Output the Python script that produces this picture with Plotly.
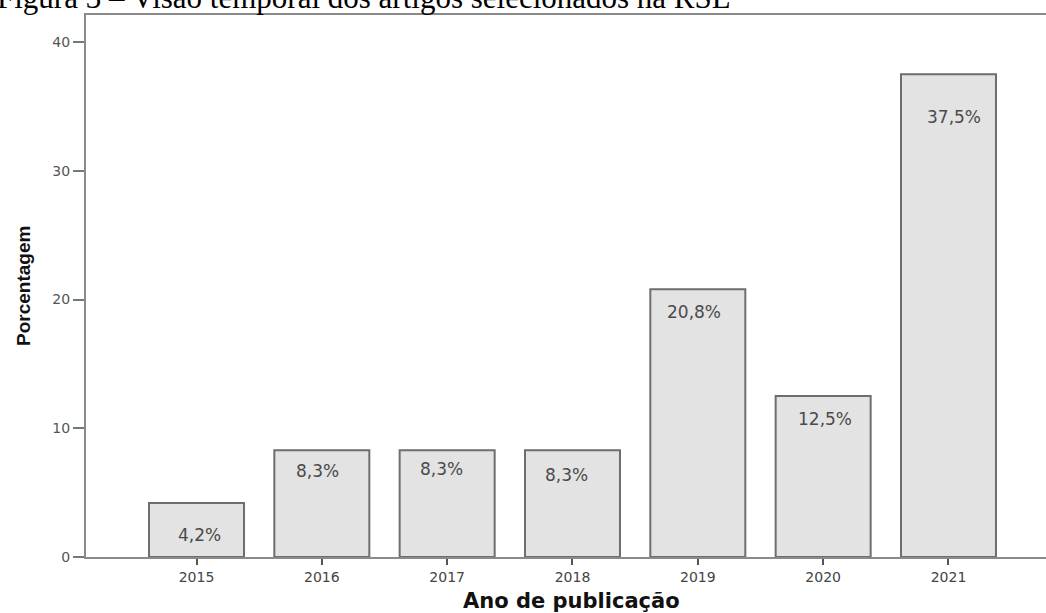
import plotly.graph_objects as go

years = ["2015", "2016", "2017", "2018", "2019", "2020", "2021"]
percent = [4.2, 8.3, 8.3, 8.3, 20.8, 12.5, 37.5]
labels = ["4,2%", "8,3%", "8,3%", "8,3%", "20,8%", "12,5%", "37,5%"]
y_ticks = [0, 10, 20, 30, 40]

title_text = "Figura 3 – Visão temporal dos artigos selecionados na RSL"
x_title = "Ano de publicação"
y_title = "Porcentagem"

# label placement offsets (pixels) relative to the bar top / category centre
label_dy = [-32, -21, -19, -25, -23, -23, -43]
label_dx = [3, -4, -6, -6, -4, 2, 6]

W, H = 1046, 613
ml, mt, mr, mb = 86, 15, 0, 56
pw, ph = W - ml - mr, H - mt - mb

fig = go.Figure()
fig.add_trace(go.Bar(
    x=years, y=percent,
    marker=dict(color="#e3e3e3", line=dict(color="#6e6e6e", width=2)),
    hoverinfo="skip",
))

for i, (v, lab) in enumerate(zip(percent, labels)):
    fig.add_annotation(
        x=i, y=v, xref="x", yref="y", text=lab, showarrow=False,
        xanchor="center", yanchor="middle",
        xshift=label_dx[i], yshift=label_dy[i],
        font=dict(family="DejaVu Sans", size=17, color="#4a4a4a"),
    )

fig.add_annotation(
    x=(733 - ml) / pw, y=1, xref="paper", yref="paper", xanchor="right",
    yanchor="bottom", yshift=-2, text=title_text, showarrow=False,
    font=dict(family="Liberation Serif", size=31, color="#000000"),
)
fig.add_annotation(
    x=(571 - ml) / pw, y=-(601 - (H - mb)) / ph, xref="paper", yref="paper",
    xanchor="center", yanchor="middle", text=x_title, showarrow=False,
    font=dict(family="DejaVu Sans", size=21, color="#111111", weight="bold"),
)
fig.add_annotation(
    x=(23 - ml) / pw, y=((H - mb) - 286) / ph, xref="paper", yref="paper",
    xanchor="center", yanchor="middle", textangle=-90, text=y_title,
    showarrow=False,
    font=dict(family="Liberation Sans Narrow, Liberation Sans, sans-serif",
              size=19, color="#111111", weight="bold"),
)

unit = 125.33
fig.update_layout(
    width=W, height=H,
    margin=dict(l=ml, r=mr, t=mt, b=mb, pad=0),
    paper_bgcolor="white", plot_bgcolor="white",
    bargap=0.242, showlegend=False,
    xaxis=dict(
        type="category", range=[-(196.5 - ml) / unit, (W - 196.5) / unit],
        showline=True, linecolor="#8a8a8a", linewidth=2, mirror=True,
        ticks="outside", ticklen=6, tickwidth=2, tickcolor="#555555",
        showgrid=False, zeroline=False,
        tickfont=dict(family="DejaVu Sans", size=14, color="#444444"),
    ),
    yaxis=dict(
        range=[0, (H - mb - mt) / 12.875], tickvals=y_ticks,
        showline=True, linecolor="#8a8a8a", linewidth=2,
        ticks="outside", ticklen=11, tickwidth=2, tickcolor="#777777",
        showgrid=False, zeroline=False,
        tickfont=dict(family="DejaVu Sans", size=14, color="#555555"),
    ),
)

fig.write_html("out.html")
